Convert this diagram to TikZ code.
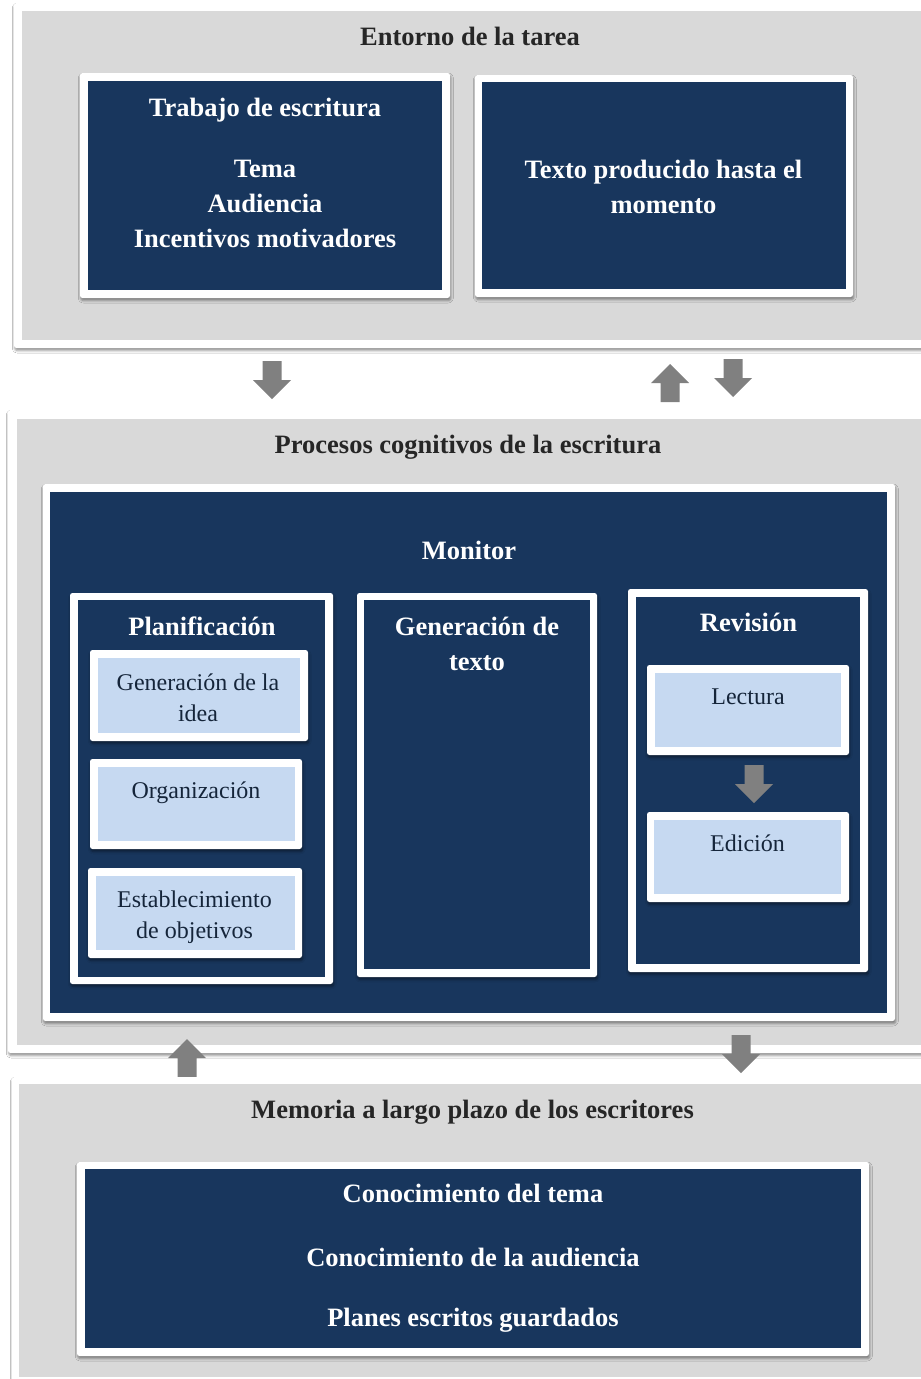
\documentclass[tikz,border=0pt]{standalone}
\usepackage{fontspec}
\setmainfont{Liberation Serif}
\usetikzlibrary{fit,shadows.blur}

\definecolor{navy}{HTML}{18365D}
\definecolor{lightblue}{HTML}{C6D9F1}
\definecolor{panelgray}{HTML}{D9D9D9}
\definecolor{arrowgray}{HTML}{808080}
\definecolor{headgray}{HTML}{262626}
\definecolor{subtext}{HTML}{15253A}

\tikzset{
  down arrow/.pic={\fill[arrowgray] (-9.5,0) -- (9.5,0) -- (9.5,19) -- (19,19) -- (0,38) -- (-19,19) -- (-9.5,19) -- cycle;},
  up arrow/.pic={\fill[arrowgray] (-9.5,38) -- (9.5,38) -- (9.5,19) -- (19,19) -- (0,0) -- (-19,19) -- (-9.5,19) -- cycle;}
}

\begin{document}
\begin{tikzpicture}[x=1pt, y=-1pt,
    whiteframe/.style={fill=white, rounded corners=2.5pt, inner sep=0pt,
      blur shadow={shadow xshift=0.8pt, shadow yshift=-2.5pt, shadow blur radius=2.5pt, shadow opacity=45}},
    graypanel/.style={fill=panelgray, inner sep=0pt},
    navyfill/.style={fill=navy, inner sep=0pt},
    lightfill/.style={fill=lightblue, inner sep=0pt},
    headtext/.style={font=\fontsize{26.5}{35}\selectfont\bfseries, text=headgray, anchor=base},
    boldtext/.style={font=\fontsize{26.5}{35}\selectfont\bfseries, text=white, anchor=base, align=center},
    plaintext/.style={font=\fontsize{24}{31}\selectfont, text=subtext, anchor=base, align=center}]
  \useasboundingbox (0,0) rectangle (921,1379);
  \fill[white] (0,0) rectangle (921,1379);

  % entorno de la tarea
  \node[whiteframe, fit={(14,3) (935,348)}] (entornoframe) {};
  \node[graypanel, fit={(22,11) (921,340)}] (entorno) {};
  \node[headtext] (entornotitle) at (470,45) {Entorno de la tarea};
  \node[whiteframe, fit={(80,73) (450,298)}] (trabajoframe) {};
  \node[navyfill, fit={(88,81) (442,290)}] (trabajo) {};
  \node[boldtext] (trabajotitle) at (265,116) {Trabajo de escritura};
  \node[boldtext] (trabajolist) at (265,247) {Tema\\Audiencia\\Incentivos motivadores};
  \node[whiteframe, fit={(475,75) (853,297)}] (textoframe) {};
  \node[navyfill, fit={(482,82) (846,289)}] (texto) {};
  \node[boldtext] (textolabel) at (663.5,213) {Texto producido hasta el\\momento};

  \pic at (272,361) {down arrow};
  \pic at (670,364) {up arrow};
  \pic at (733,359) {down arrow};

  % procesos cognitivos
  \node[whiteframe, fit={(8,410) (935,1053)}] (procesosframe) {};
  \node[graypanel, fit={(17,419) (921,1045)}] (procesos) {};
  \node[headtext] (procesostitle) at (468,453.5) {Procesos cognitivos de la escritura};
  \node[whiteframe, fit={(43,484) (895,1021)}] (monitorframe) {};
  \node[navyfill, fit={(50,492) (887,1013)}] (monitor) {};
  \node[boldtext] (monitortitle) at (469,559) {Monitor};

  \node[whiteframe, fit={(70,593) (333,984)}] (planframe) {};
  \node[navyfill, fit={(78,600) (325,977)}] (plan) {};
  \node[boldtext] (plantitle) at (202,635) {Planificación};
  \node[whiteframe, fit={(90,650) (308,741)}] (ideaframe) {};
  \node[lightfill, fit={(98,658) (300,733)}] (idea) {};
  \node[plaintext] (idealabel) at (198,721) {Generación de la\\idea};
  \node[whiteframe, fit={(90,759) (302,849)}] (orgframe) {};
  \node[lightfill, fit={(98,767) (295,841)}] (org) {};
  \node[plaintext] (orglabel) at (196,798) {Organización};
  \node[whiteframe, fit={(88,868) (302,958)}] (objframe) {};
  \node[lightfill, fit={(96,876) (295,950)}] (obj) {};
  \node[plaintext] (objlabel) at (194.5,938) {Establecimiento\\de objetivos};

  \node[whiteframe, fit={(357,593) (597,977)}] (genframe) {};
  \node[navyfill, fit={(364,600) (590,969)}] (gen) {};
  \node[boldtext] (genlabel) at (477,670) {Generación de\\texto};

  \node[whiteframe, fit={(628,589) (868,972)}] (revframe) {};
  \node[navyfill, fit={(636,597) (860,964)}] (rev) {};
  \node[boldtext] (revtitle) at (748.5,631) {Revisión};
  \node[whiteframe, fit={(647,665) (849,755)}] (lectframe) {};
  \node[lightfill, fit={(655,673) (841,747)}] (lect) {};
  \node[plaintext] (lectlabel) at (748,704) {Lectura};
  \node[whiteframe, fit={(647,812) (849,902)}] (edframe) {};
  \node[lightfill, fit={(654,820) (841,894)}] (ed) {};
  \node[plaintext] (edlabel) at (747.5,851) {Edición};
  \pic at (754,765) {down arrow};

  \pic at (187,1039) {up arrow};
  \pic at (741,1035) {down arrow};

  % memoria a largo plazo
  \node[whiteframe, fit={(12,1077) (935,1390)}] (memoriaframe) {};
  \node[graypanel, fit={(19,1084) (921,1377)}] (memoria) {};
  \node[headtext] (memoriatitle) at (472.5,1118) {Memoria a largo plazo de los escritores};
  \node[whiteframe, fit={(77,1162) (869,1356)}] (conocframe) {};
  \node[navyfill, fit={(85,1169) (861,1348)}] (conoc) {};
  \node[boldtext] (conoctema) at (473,1202) {Conocimiento del tema};
  \node[boldtext] (conocaud) at (473,1266) {Conocimiento de la audiencia};
  \node[boldtext] (conocplan) at (473,1326) {Planes escritos guardados};
\end{tikzpicture}
\end{document}
